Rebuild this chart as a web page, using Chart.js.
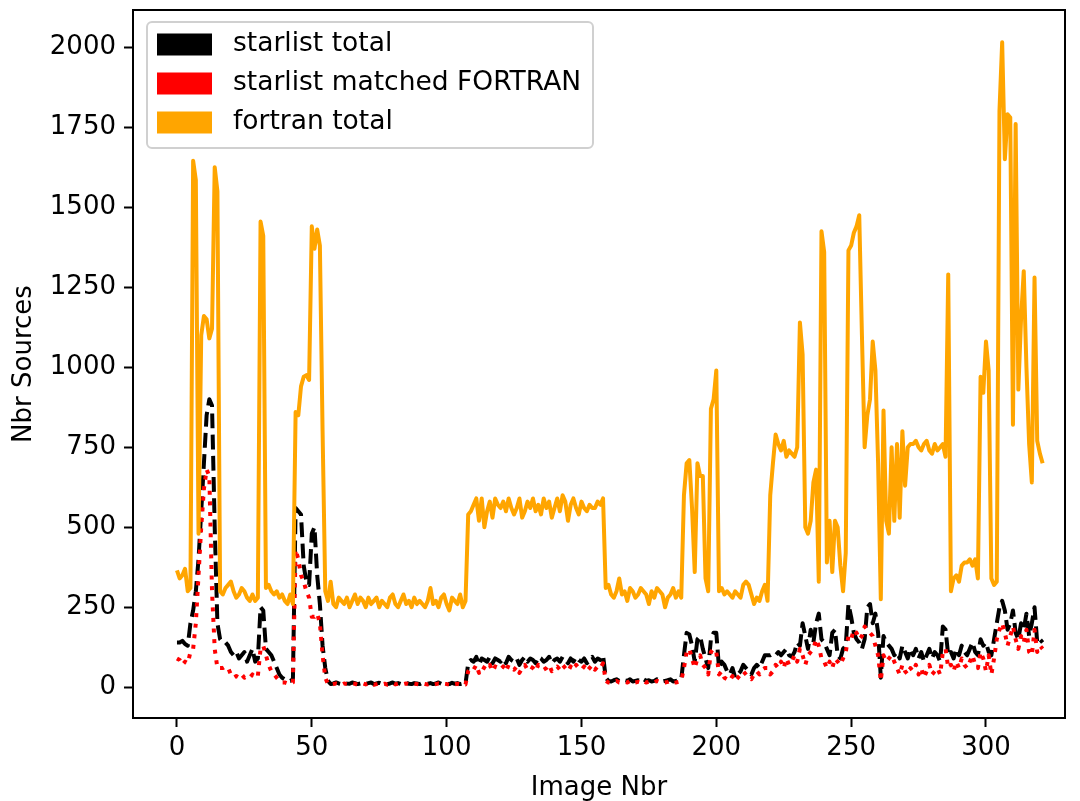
<!DOCTYPE html>
<html><head><meta charset="utf-8">
<script src="https://cdn.jsdelivr.net/npm/chart.js@4.4.0/dist/chart.umd.min.js"></script>
<style>html,body{margin:0;padding:0;background:#fff;}canvas{display:block;}</style>
</head><body>
<canvas id="c" width="1080" height="801"></canvas>
<script>
const fortranTotal = [
365,340,350,370,300,310,1645,1585,480,1100,
1160,1150,1090,1120,1625,1550,300,290,310,320,
330,300,280,290,310,300,280,270,290,270,
280,1455,1410,310,320,300,290,300,280,290,
270,260,290,260,860,850,940,970,975,960,
1440,1370,1430,1380,800,300,270,330,260,250,
280,270,260,280,250,270,290,260,280,270,
250,280,260,270,280,250,270,260,250,280,
290,260,250,270,290,260,270,250,280,260,
270,260,250,270,310,260,270,250,280,290,
260,240,280,270,260,290,250,270,540,550,
570,590,520,590,500,550,580,530,590,570,
560,580,550,590,560,540,560,590,530,550,
580,560,590,550,570,540,590,560,580,530,
560,590,550,600,580,520,570,590,560,540,
580,560,550,570,560,560,580,570,590,310,
320,290,280,300,340,290,300,270,310,300,
280,290,310,300,290,260,300,280,310,300,
290,250,280,290,310,280,300,280,600,700,
710,560,360,700,660,660,340,300,870,900,
990,300,310,290,300,290,280,300,290,280,
320,330,320,290,260,280,270,300,320,270,
600,700,790,760,740,770,720,740,730,720,
750,1140,1040,500,480,520,640,680,330,1425,
1360,390,520,360,520,500,380,300,420,1365,
1380,1420,1440,1475,1100,750,850,900,1080,990,
700,275,865,520,480,750,520,760,530,800,
630,750,760,760,770,750,740,760,770,740,
730,760,740,750,760,720,1290,300,340,350,
330,380,390,390,400,380,400,340,970,920,
1080,990,340,320,330,1800,2015,1650,1790,1780,
820,1760,930,1150,1300,1000,760,640,1280,770,
730,700];

const starlistTotal = [
140,140,145,135,130,200,240,300,400,550,
700,850,900,880,500,200,150,140,140,130,
110,100,110,90,100,110,80,100,120,80,
90,250,240,120,110,100,80,60,40,30,
25,20,20,25,560,550,540,380,330,320,
480,500,350,260,130,60,20,10,12,15,
12,10,14,12,11,15,13,10,12,14,
11,13,15,10,12,14,11,13,10,12,
15,11,13,10,12,14,11,10,13,12,
10,14,12,11,13,10,12,15,11,13,
12,10,14,11,13,10,12,11,75,85,
80,95,70,90,85,80,95,75,90,85,
80,90,75,95,85,80,90,70,85,95,
80,90,85,75,95,90,80,85,95,75,
85,90,80,95,85,75,90,80,95,85,
80,90,75,85,95,80,90,85,100,30,
20,18,22,25,20,18,22,20,25,18,
20,22,18,25,20,22,18,20,25,22,
18,20,22,25,18,20,22,25,100,170,
165,130,80,150,160,120,90,60,150,170,
170,60,80,70,50,40,60,30,40,50,
70,60,50,40,60,70,60,80,100,100,
100,105,100,110,100,110,120,100,95,110,
140,130,200,160,120,180,140,200,230,150,
140,120,100,170,180,100,90,120,130,260,
220,170,150,140,120,150,250,260,200,230,
170,30,160,140,130,120,100,110,90,130,
110,90,120,100,120,90,110,80,100,120,
90,110,100,80,190,180,100,110,90,120,
100,130,110,100,120,140,110,100,150,130,
140,110,100,150,200,250,270,240,180,200,
240,170,150,200,180,230,160,200,250,140,
150,140];

const starlistMatched = [
90,85,70,80,75,110,120,200,350,500,
620,680,660,300,120,60,60,60,65,60,
40,30,35,30,40,30,35,30,40,30,
35,120,130,100,70,50,40,30,20,15,
15,12,10,15,430,400,350,330,300,280,
220,220,230,200,100,30,10,8,10,12,
10,8,12,10,9,12,11,8,10,12,
9,11,12,8,10,12,9,11,8,10,
12,9,11,8,10,12,9,8,11,10,
8,12,10,9,11,8,10,12,9,11,
10,8,12,9,11,8,10,9,50,60,
55,70,45,65,60,55,70,50,65,60,
55,65,50,70,60,55,65,45,60,70,
55,65,60,50,70,65,55,60,70,50,
60,65,55,70,60,50,65,55,70,60,
55,65,50,60,70,55,65,60,75,20,
15,14,17,20,15,14,17,15,20,14,
15,17,14,20,15,17,14,15,20,17,
14,15,17,20,14,15,17,20,60,110,
120,90,60,90,100,70,60,40,110,120,
110,40,50,30,25,20,35,20,30,40,
50,40,30,25,40,50,40,55,60,60,
40,50,70,60,80,60,90,70,80,100,
80,120,100,70,100,110,120,150,130,90,
80,60,80,60,90,80,70,90,110,160,
150,180,170,150,160,190,180,170,160,130,
100,20,100,80,90,100,80,60,40,70,
50,40,60,50,70,40,60,30,50,70,
40,50,60,40,110,120,60,70,50,80,
60,90,70,60,80,100,70,60,110,90,
50,100,40,90,150,180,200,170,130,160,
190,150,120,160,140,180,110,100,180,110,
130,120];

const imageNbr = fortranTotal.map((_, i) => i);
const seriesLabels = ['starlist total', 'starlist matched FORTRAN', 'fortran total'];
const seriesColors = ['#000000', '#ff0000', '#ffa500'];
const xTicks = [0, 50, 100, 150, 200, 250, 300];
const yTicks = [0, 250, 500, 750, 1000, 1250, 1500, 1750, 2000];

const FONT = 'DejaVu Sans';
const FS = 26;
Chart.defaults.font.family = FONT;
Chart.defaults.font.size = FS;
Chart.defaults.color = '#000';

const framePlugin = {
  id: 'frame',
  afterDatasetsDraw(chart) {
    const a = chart.chartArea, c = chart.ctx;
    c.save();
    c.strokeStyle = '#000';
    c.lineWidth = 2;
    c.strokeRect(a.left, a.top, a.right - a.left, a.bottom - a.top);
    c.restore();
  }
};

const legendPlugin = {
  id: 'boxLegend',
  afterDraw(chart) {
    const c = chart.ctx;
    c.save();
    const bx = 147, by = 22, bw = 446, bh = 126;
    c.beginPath();
    c.roundRect(bx, by, bw, bh, 5);
    c.fillStyle = 'rgba(255,255,255,0.8)';
    c.fill();
    c.strokeStyle = '#d0d0d0';
    c.lineWidth = 2;
    c.stroke();
    const rows = [44.5, 83.5, 122.5];
    c.font = '26.5px "' + FONT + '"';
    c.textBaseline = 'middle';
    c.textAlign = 'left';
    chart.data.datasets.forEach((ds, i) => {
      c.fillStyle = ds.borderColor;
      c.fillRect(157, rows[i] - 11, 55, 22);
      c.fillStyle = '#000';
      c.fillText(ds.label, 233, rows[i]);
    });
    c.restore();
  }
};

const common = {borderWidth: 4, pointRadius: 0, tension: 0, fill: false, borderCapStyle: 'butt', borderJoinStyle: 'round'};

new Chart(document.getElementById('c'), {
  type: 'line',
  data: {
    labels: imageNbr,
    datasets: [
      Object.assign({label: seriesLabels[0], data: starlistTotal, borderColor: seriesColors[0], backgroundColor: seriesColors[0], borderDash: [14.8, 6.4], order: 3}, common),
      Object.assign({label: seriesLabels[1], data: starlistMatched, borderColor: seriesColors[1], backgroundColor: seriesColors[1], borderDash: [4, 6.6], order: 2}, common),
      Object.assign({label: seriesLabels[2], data: fortranTotal, borderColor: seriesColors[2], backgroundColor: seriesColors[2], order: 1}, common)
    ]
  },
  options: {
    responsive: false,
    animation: false,
    devicePixelRatio: 1,
    layout: {padding: {left: 0, right: 15, top: 10, bottom: 0}},
    plugins: {legend: {display: false}, tooltip: {enabled: false}},
    scales: {
      x: {
        type: 'linear', min: -16.3, max: 329.3,
        grid: {display: true, drawOnChartArea: false, drawTicks: true, tickLength: 9, tickWidth: 2, tickColor: '#000'},
        border: {display: false},
        ticks: {padding: 6, maxRotation: 0, autoSkip: false, font: {size: FS}, callback: v => String(v)},
        afterBuildTicks: s => { s.ticks = xTicks.map(v => ({value: v})); },
        afterFit: s => { s.height = 83; s.paddingLeft = 0; s.paddingRight = 0; },
        title: {display: true, text: 'Image Nbr', font: {size: FS}, padding: {top: 0, bottom: -3}}
      },
      y: {
        type: 'linear', min: -96, max: 2116,
        grid: {display: true, drawOnChartArea: false, drawTicks: true, tickLength: 9, tickWidth: 2, tickColor: '#000'},
        border: {display: false},
        ticks: {padding: 8, autoSkip: false, font: {size: FS}, callback: v => String(v)},
        afterBuildTicks: s => { s.ticks = yTicks.map(v => ({value: v})); },
        afterFit: s => { s.width = 133; s.paddingTop = 0; s.paddingBottom = 0; },
        title: {display: true, text: 'Nbr Sources', font: {size: FS}, padding: {top: 9, bottom: 0}}
      }
    }
  },
  plugins: [framePlugin, legendPlugin]
});
</script>
</body></html>
